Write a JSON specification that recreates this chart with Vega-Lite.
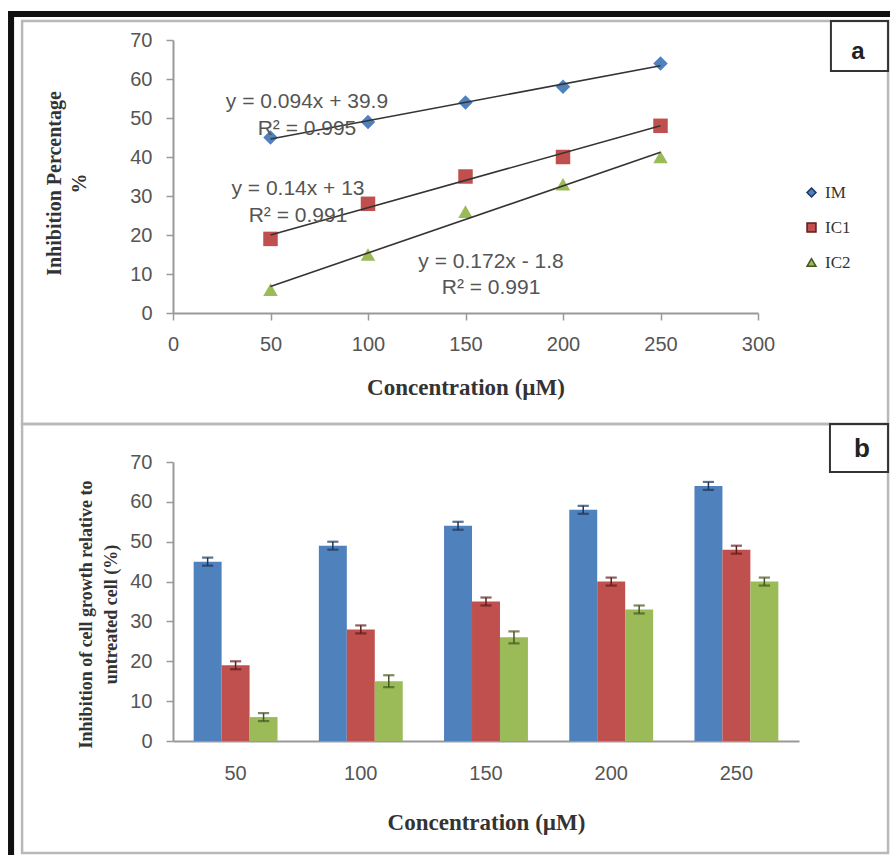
{
  "$schema": "https://vega.github.io/schema/vega-lite/v6.json",
  "background": "white",
  "padding": {"left": 8, "top": 10, "right": 1, "bottom": 1},
  "config": {
    "view": {"stroke": null},
    "axis": {"grid": false, "labelOverlap": false}
  },
  "datasets": {
    "inhibition": [
      {"series": "IM", "conc": 50, "value": 45, "lo": 44, "hi": 46},
      {"series": "IM", "conc": 100, "value": 49, "lo": 48, "hi": 50},
      {"series": "IM", "conc": 150, "value": 54, "lo": 53, "hi": 55},
      {"series": "IM", "conc": 200, "value": 58, "lo": 57, "hi": 59},
      {"series": "IM", "conc": 250, "value": 64, "lo": 63, "hi": 65},
      {"series": "IC1", "conc": 50, "value": 19, "lo": 18, "hi": 20},
      {"series": "IC1", "conc": 100, "value": 28, "lo": 27, "hi": 29},
      {"series": "IC1", "conc": 150, "value": 35, "lo": 34, "hi": 36},
      {"series": "IC1", "conc": 200, "value": 40, "lo": 39, "hi": 41},
      {"series": "IC1", "conc": 250, "value": 48, "lo": 47, "hi": 49},
      {"series": "IC2", "conc": 50, "value": 6, "lo": 5, "hi": 7},
      {"series": "IC2", "conc": 100, "value": 15, "lo": 13.5, "hi": 16.5},
      {"series": "IC2", "conc": 150, "value": 26, "lo": 24.5, "hi": 27.5},
      {"series": "IC2", "conc": 200, "value": 33, "lo": 32, "hi": 34},
      {"series": "IC2", "conc": 250, "value": 40, "lo": 39, "hi": 41}
    ]
  },
  "bounds": "flush",
  "spacing": 149,
  "vconcat": [
    {
      "width": 585,
      "height": 273,
      "data": {"name": "inhibition"},
      "layer": [
        {
          "data": {"values": [{}]},
          "mark": {"type": "rect", "color": "#111111"},
          "encoding": {
            "x": {"datum": -84.6, "type": "quantitative"},
            "x2": {"datum": -81.5},
            "y": {"datum": 77.44, "type": "quantitative"},
            "y2": {"datum": -138.97}
          }
        },
        {
          "data": {"values": [{}]},
          "mark": {"type": "rect", "color": "#111111"},
          "encoding": {
            "x": {"datum": -84.6, "type": "quantitative"},
            "x2": {"datum": 367.7},
            "y": {"datum": 77.44, "type": "quantitative"},
            "y2": {"datum": 75.9}
          }
        },
        {
          "data": {"values": [{}]},
          "mark": {"type": "rect", "filled": false, "color": "#b8b8b8", "strokeWidth": 2.5},
          "encoding": {
            "x": {"datum": -77.4, "type": "quantitative"},
            "x2": {"datum": 366.7},
            "y": {"datum": 74.87, "type": "quantitative"},
            "y2": {"datum": -28.46}
          }
        },
        {
          "data": {"values": [{}]},
          "mark": {"type": "rect", "filled": false, "color": "#b8b8b8", "strokeWidth": 2.5},
          "encoding": {
            "x": {"datum": -77.4, "type": "quantitative"},
            "x2": {"datum": 366.7},
            "y": {"datum": -28.46, "type": "quantitative"},
            "y2": {"datum": -138.46}
          }
        },
        {
          "data": {"values": [{}]},
          "mark": {"type": "rect", "filled": false, "color": "#333333", "strokeWidth": 2},
          "encoding": {
            "x": {"datum": 337.4, "type": "quantitative"},
            "x2": {"datum": 366.7},
            "y": {"datum": 74.87, "type": "quantitative"},
            "y2": {"datum": 62.05}
          }
        },
        {
          "data": {"values": [{}]},
          "mark": {"type": "rect", "filled": false, "color": "#333333", "strokeWidth": 2},
          "encoding": {
            "x": {"datum": 336.9, "type": "quantitative"},
            "x2": {"datum": 366.7},
            "y": {"datum": -28.46, "type": "quantitative"},
            "y2": {"datum": -40.77}
          }
        },
        {
          "data": {"values": [{"tag": "a"}, {"tag": "b"}]},
          "transform": [{"filter": "datum.tag === 'a'"}],
          "mark": {"type": "text", "font": "Liberation Sans", "fontWeight": "bold", "fontSize": 24, "color": "#222222", "align": "center", "baseline": "middle"},
          "encoding": {
            "x": {"datum": 351.3, "type": "quantitative"},
            "y": {"datum": 66.9, "type": "quantitative"},
            "text": {"field": "tag"}
          }
        },
        {
          "data": {"values": [{"tag": "a"}, {"tag": "b"}]},
          "transform": [{"filter": "datum.tag === 'b'"}],
          "mark": {"type": "text", "font": "Liberation Sans", "fontWeight": "bold", "fontSize": 26, "color": "#222222", "align": "center", "baseline": "middle"},
          "encoding": {
            "x": {"datum": 353.3, "type": "quantitative"},
            "y": {"datum": -34.9, "type": "quantitative"},
            "text": {"field": "tag"}
          }
        },
        {
          "mark": {"type": "point", "filled": true, "size": 210, "opacity": 1},
          "encoding": {
            "x": {
              "field": "conc",
              "type": "quantitative",
              "scale": {"domain": [0, 300], "nice": false},
              "axis": {
                "values": [0, 50, 100, 150, 200, 250, 300],
                "tickCount": 20,
                "title": "Concentration (µM)",
                "titleFont": "Liberation Serif",
                "titleFontWeight": "bold",
                "titleFontSize": 23,
                "titleColor": "#333333",
                "titlePadding": 22,
                "labelFont": "Liberation Sans",
                "labelFontSize": 20,
                "labelColor": "#555555",
                "labelPadding": 14,
                "labelFlush": false,
                "labelOverlap": false,
                "domainColor": "#999999",
                "domainWidth": 2,
                "tickColor": "#999999",
                "tickWidth": 1.5,
                "tickSize": 7
              }
            },
            "y": {
              "field": "value",
              "type": "quantitative",
              "scale": {"domain": [0, 70], "nice": false},
              "axis": {
                "values": [0, 10, 20, 30, 40, 50, 60, 70],
                "tickCount": 20,
                "title": ["Inhibition Percentage", "%"],
                "titleFont": "Liberation Serif",
                "titleFontWeight": "bold",
                "titleFontSize": 20,
                "titleLineHeight": 25,
                "titleColor": "#333333",
                "titlePadding": 40,
                "titleY": 143,
                "labelFont": "Liberation Sans",
                "labelFontSize": 20,
                "labelColor": "#555555",
                "labelPadding": 14,
                "labelFlush": false,
                "labelOverlap": false,
                "domainColor": "#999999",
                "domainWidth": 2,
                "tickColor": "#999999",
                "tickWidth": 1.5,
                "tickSize": 7
              }
            },
            "color": {
              "field": "series",
              "type": "nominal",
              "scale": {"domain": ["IM", "IC1", "IC2"], "range": ["#4F81BD", "#C0504D", "#9BBB59"]},
              "legend": {"orient": "none", "legendX": 630, "legendY": 144, "title": null, "labelFont": "Liberation Serif", "labelFontSize": 17, "labelColor": "#333333", "symbolSize": 80, "rowPadding": 17, "labelOffset": 5}
            },
            "shape": {
              "field": "series",
              "type": "nominal",
              "scale": {"domain": ["IM", "IC1", "IC2"], "range": ["diamond", "square", "triangle-up"]},
              "legend": {"orient": "none", "legendX": 630, "legendY": 144, "title": null, "labelFont": "Liberation Serif", "labelFontSize": 17, "labelColor": "#333333", "symbolSize": 80, "rowPadding": 17, "labelOffset": 5}
            }
          }
        },
        {
          "transform": [
            {"regression": "value", "on": "conc", "groupby": ["series"], "extent": [50, 250]}
          ],
          "mark": {"type": "line", "color": "#333333", "strokeWidth": 1.6},
          "encoding": {
            "x": {"field": "conc", "type": "quantitative"},
            "y": {"field": "value", "type": "quantitative"},
            "detail": {"field": "series", "type": "nominal"}
          }
        },
        {
          "data": {"values": [{}]},
          "mark": {"type": "text", "font": "Liberation Sans", "fontSize": 21, "color": "#555555", "align": "center", "baseline": "middle", "lineHeight": 27, "text": ["y = 0.094x + 39.9", "R² = 0.995"]},
          "encoding": {
            "x": {"datum": 68.7, "type": "quantitative"},
            "y": {"datum": 54.0, "type": "quantitative"}
          }
        },
        {
          "data": {"values": [{}]},
          "mark": {"type": "text", "font": "Liberation Sans", "fontSize": 21, "color": "#555555", "align": "center", "baseline": "middle", "lineHeight": 27, "text": ["y = 0.14x + 13", "R² = 0.991"]},
          "encoding": {
            "x": {"datum": 64.1, "type": "quantitative"},
            "y": {"datum": 31.7, "type": "quantitative"}
          }
        },
        {
          "data": {"values": [{}]},
          "mark": {"type": "text", "font": "Liberation Sans", "fontSize": 21, "color": "#555555", "align": "center", "baseline": "middle", "lineHeight": 26, "text": ["y = 0.172x - 1.8", "R² = 0.991"]},
          "encoding": {
            "x": {"datum": 163.1, "type": "quantitative"},
            "y": {"datum": 13.2, "type": "quantitative"}
          }
        }
      ]
    },
    {
      "width": 626,
      "height": 279,
      "data": {"name": "inhibition"},
      "encoding": {
        "x": {
          "field": "conc",
          "type": "ordinal",
          "scale": {"paddingInner": 0.33, "paddingOuter": 0.165},
          "axis": {
            "title": "Concentration  (µM)",
            "titleFont": "Liberation Serif",
            "titleFontWeight": "bold",
            "titleFontSize": 23,
            "titleColor": "#333333",
            "titlePadding": 28,
            "labelFont": "Liberation Sans",
            "labelFontSize": 20,
            "labelColor": "#555555",
            "labelPadding": 22,
            "labelAngle": 0,
            "ticks": false,
            "tickSize": 0,
            "domainColor": "#999999",
            "domainWidth": 2
          }
        },
        "xOffset": {
          "field": "series",
          "type": "nominal",
          "sort": ["IM", "IC1", "IC2"],
          "scale": {"domain": ["IM", "IC1", "IC2"], "paddingInner": 0, "paddingOuter": 0}
        }
      },
      "layer": [
        {
          "mark": {"type": "bar"},
          "encoding": {
            "y": {
              "field": "value",
              "type": "quantitative",
              "scale": {"domain": [0, 70], "nice": false},
              "axis": {
                "values": [0, 10, 20, 30, 40, 50, 60, 70],
                "tickCount": 20,
                "title": ["Inhibition of cell growth relative to", "untreated cell (%)"],
                "titleFont": "Liberation Serif",
                "titleFontWeight": "bold",
                "titleFontSize": 18,
                "titleLineHeight": 25,
                "titleColor": "#333333",
                "titlePadding": 9,
                "titleY": 152,
                "labelFont": "Liberation Sans",
                "labelFontSize": 20,
                "labelColor": "#555555",
                "labelPadding": 14,
                "labelFlush": false,
                "labelOverlap": false,
                "domainColor": "#999999",
                "domainWidth": 2,
                "tickColor": "#999999",
                "tickWidth": 1.5,
                "tickSize": 7
              }
            },
            "fill": {
              "field": "series",
              "type": "nominal",
              "scale": {"domain": ["IM", "IC1", "IC2"], "range": ["#4F81BD", "#C0504D", "#9BBB59"]},
              "legend": {"orient": "none", "legendX": 645, "legendY": 138, "title": null, "labelFont": "Liberation Serif", "labelFontSize": 17, "labelColor": "#333333", "symbolType": "square", "symbolSize": 64, "rowPadding": 15, "labelOffset": 4}
            }
          }
        },
        {
          "mark": {"type": "rule", "strokeWidth": 1.5},
          "encoding": {
            "y": {"field": "lo", "type": "quantitative"},
            "y2": {"field": "hi"},
            "stroke": {
              "field": "series",
              "type": "nominal",
              "scale": {"domain": ["IM", "IC1", "IC2"], "range": ["#1d3559", "#5e1c1b", "#44561f"]},
              "legend": null
            }
          }
        },
        {
          "mark": {"type": "tick", "size": 10, "thickness": 1, "filled": false, "strokeWidth": 1.2},
          "encoding": {
            "y": {"field": "lo", "type": "quantitative"},
            "stroke": {"field": "series", "type": "nominal", "legend": null}
          }
        },
        {
          "mark": {"type": "tick", "size": 10, "thickness": 1, "filled": false, "strokeWidth": 1.2},
          "encoding": {
            "y": {"field": "hi", "type": "quantitative"},
            "stroke": {"field": "series", "type": "nominal", "legend": null}
          }
        }
      ]
    }
  ]
}
